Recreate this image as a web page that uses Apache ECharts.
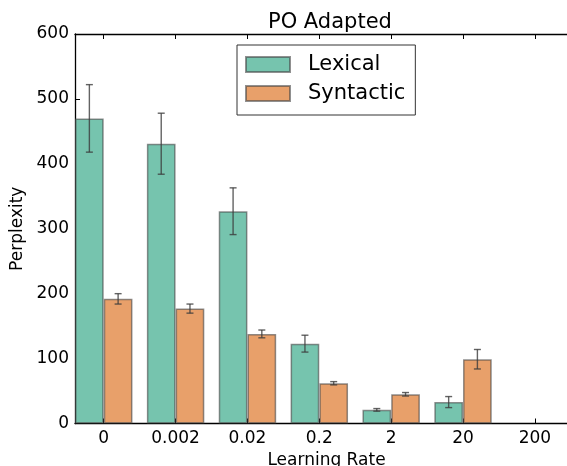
<!DOCTYPE html>
<html>
<head>
<meta charset="utf-8">
<script src="https://cdn.jsdelivr.net/npm/echarts@6/dist/echarts.min.js"></script>
<style>
html, body { margin: 0; padding: 0; background: #fff; }
#main { width: 567px; height: 466px; }
</style>
</head>
<body>
<div id="main"></div>
<script>
// 数据
var rates = ['0', '0.002', '0.02', '0.2', '2', '20', '200'];
var lexical = [470, 431, 327, 123, 21, 33, null];
var lexicalErr = [52, 47, 36, 13, 2, 8.5, null];
var syntactic = [192, 177, 138, 62, 45, 99, null];
var syntacticErr = [8, 7, 6, 2.5, 2.7, 15, null];
var yTicks = [0, 100, 200, 300, 400, 500, 600];

var tickPos = rates.map(function (r, i) { return i; });
var font = 'DejaVu Sans';

// 柱子放在 i-0.2 / i+0.2
function barData(vals, shift) {
	return vals.map(function (v, i) { return v == null ? [i + shift, '-'] : [i + shift, v]; });
}
function errData(vals, errs, shift) {
	var out = [];
	vals.forEach(function (v, i) {
		if (v == null) return;
		out.push([i + shift, v - errs[i], v + errs[i]]);
	});
	return out;
}

function renderErr(params, api) {
	var x = api.value(0);
	var lo = api.coord([x, api.value(1)]);
	var hi = api.coord([x, api.value(2)]);
	var cap = 3.5;
	var style = { stroke: 'rgba(60,60,60,0.8)', lineWidth: 1.4 };
	return {
		type: 'group',
		children: [
			{ type: 'line', shape: { x1: lo[0], y1: lo[1], x2: hi[0], y2: hi[1] }, style: style },
			{ type: 'line', shape: { x1: lo[0] - cap, y1: lo[1], x2: lo[0] + cap, y2: lo[1] }, style: style },
			{ type: 'line', shape: { x1: hi[0] - cap, y1: hi[1], x2: hi[0] + cap, y2: hi[1] }, style: style }
		]
	};
}

var myChart = echarts.init(document.getElementById('main'));
var option = {
	animation: false,
	textStyle: { fontFamily: font, color: '#000' },
	title: {
		text: 'PO Adapted',
		left: 263,
		top: 7,
		textStyle: { fontFamily: font, fontSize: 21, fontWeight: 'normal', color: '#000' }
	},
	legend: {
		orient: 'vertical',
		left: 237,
		top: 45,
		padding: [9, 10, 11, 8],
		itemWidth: 44,
		itemHeight: 15,
		itemGap: 8,
		icon: 'rect',
		borderColor: '#333',
		borderWidth: 1,
		borderRadius: 0,
		data: ['Lexical', 'Syntactic'],
		textStyle: { fontFamily: font, fontSize: 21, color: '#000', padding: [0, 0, 0, 13] }
	},
	grid: { left: 75, right: -11, top: 34, bottom: 42.5, outerBoundsMode: 'none', containLabel: false },
	xAxis: [{
		type: 'value',
		min: -0.4,
		max: 6.6,
		name: 'Learning Rate',
		nameLocation: 'middle',
		nameGap: 24,
		nameTextStyle: { fontFamily: font, fontSize: 17, color: '#000' },
		axisLine: { onZero: false, lineStyle: { color: '#000', width: 1.3 } },
		axisTick: { inside: true, length: 5, customValues: tickPos, lineStyle: { color: '#000' } },
		axisLabel: {
			customValues: tickPos, margin: 7, fontSize: 17, color: '#000', fontFamily: font,
			formatter: function (v) { return rates[Math.round(v)]; }
		},
		splitLine: { show: false }
	}, {
		type: 'value',
		position: 'top',
		min: -0.4,
		max: 6.6,
		axisLine: { show: true, onZero: false, lineStyle: { color: '#000', width: 1.3 } },
		axisTick: { inside: true, length: 5, customValues: tickPos, lineStyle: { color: '#000' } },
		axisLabel: { show: false },
		splitLine: { show: false }
	}],
	yAxis: {
		type: 'value',
		min: 0,
		max: 600,
		interval: 100,
		name: 'Perplexity',
		nameLocation: 'middle',
		nameGap: 43,
		nameTextStyle: { fontFamily: font, fontSize: 17, color: '#000' },
		axisLine: { show: true, onZero: false, lineStyle: { color: '#000', width: 1.3 } },
		axisTick: { show: true, inside: true, length: 5, lineStyle: { color: '#000' } },
		axisLabel: {
			margin: 6, fontSize: 17, color: '#000', fontFamily: font,
			formatter: function (v) { return yTicks.indexOf(v) >= 0 ? String(v) : ''; }
		},
		splitLine: { show: false }
	},
	series: [{
		name: 'Lexical',
		type: 'bar',
		barWidth: 28.7,
		barGap: '-100%',
		data: barData(lexical, -0.2),
		itemStyle: { color: '#76c4ae', borderColor: 'rgba(70,70,70,0.6)', borderWidth: 1.5 }
	}, {
		name: 'Syntactic',
		type: 'bar',
		barWidth: 28.7,
		barGap: '-100%',
		data: barData(syntactic, 0.2),
		itemStyle: { color: '#e8a06a', borderColor: 'rgba(70,70,70,0.6)', borderWidth: 1.5 }
	}, {
		type: 'custom',
		renderItem: renderErr,
		data: errData(lexical, lexicalErr, -0.2),
		z: 5
	}, {
		type: 'custom',
		renderItem: renderErr,
		data: errData(syntactic, syntacticErr, 0.2),
		z: 5
	}]
};
myChart.setOption(option);
</script>
</body>
</html>
